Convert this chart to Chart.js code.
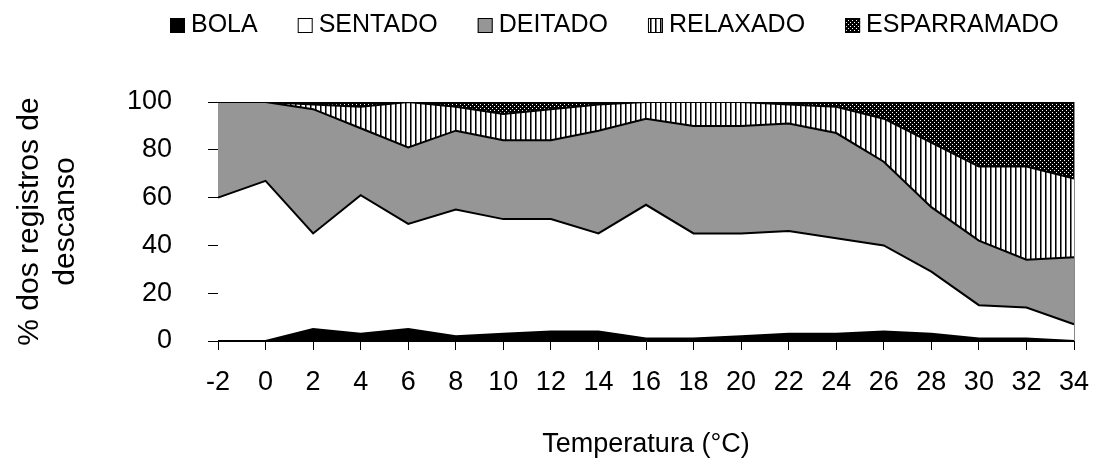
<!DOCTYPE html>
<html>
<head>
<meta charset="utf-8">
<script src="https://cdn.jsdelivr.net/npm/chart.js@4.4.1/dist/chart.umd.min.js"></script>
<style>
  body { margin: 0; background: #fff; }
</style>
</head>
<body>
<canvas id="myChart" width="1095" height="474"></canvas>
<script>
var temperaturas = ['-2', '0', '2', '4', '6', '8', '10', '12', '14', '16', '18', '20', '22', '24', '26', '28', '30', '32', '34'];

var bola        = [0, 0, 5, 3, 5, 2, 3, 4, 4, 1, 1, 2, 3, 3, 4, 3, 1, 1, 0];
var sentado     = [60, 67, 40, 58, 44, 53, 48, 47, 41, 56, 44, 43, 43, 40, 36, 26, 14, 13, 7];
var deitado     = [40, 33, 52, 28, 32, 33, 33, 33, 43, 36, 45, 45, 45, 44, 35, 27, 27, 20, 28];
var relaxado    = [0, 0, 2, 9, 19, 10, 11, 13, 11, 7, 10, 10, 8, 11, 18, 27, 31, 39, 33];
var esparramado = [0, 0, 1, 2, 0, 2, 5, 3, 1, 0, 0, 0, 1, 2, 7, 17, 27, 27, 32];

var nomes = ['BOLA', 'SENTADO', 'DEITADO', 'RELAXADO', 'ESPARRAMADO'];
var valores = [bola, sentado, deitado, relaxado, esparramado];

var fonte = "'Liberation Sans', Arial, sans-serif";

makePattern = (w, h, draw) => {
    var c = document.createElement('canvas');
    c.width = w;
    c.height = h;
    var g = c.getContext('2d');
    draw(g);
    return g.createPattern(c, 'repeat');
}

// vertical stripes for RELAXADO
var listras = makePattern(5, 5, g => {
    g.fillStyle = '#fff';
    g.fillRect(0, 0, 5, 5);
    g.fillStyle = '#000';
    g.fillRect(0, 0, 1, 5);
    g.fillStyle = '#777';
    g.fillRect(1, 0, 1, 5);
});

// white dots on black for ESPARRAMADO
var pontos = makePattern(4, 4, g => {
    g.fillStyle = '#000';
    g.fillRect(0, 0, 4, 4);
    g.fillStyle = '#fff';
    g.fillRect(0, 0, 1, 1);
    g.fillRect(2, 2, 1, 1);
});

var cores = ['#000000', '#ffffff', '#969696', listras, pontos];

var legenda = {
    id: 'legenda',
    afterDraw: (chart) => {
        var ctx = chart.ctx;
        var area = chart.chartArea;
        ctx.save();
        // thin grey edge on the right of the plot
        ctx.strokeStyle = '#888';
        ctx.lineWidth = 1;
        ctx.beginPath();
        ctx.moveTo(area.right + 0.5, area.top);
        ctx.lineTo(area.right + 0.5, area.bottom);
        ctx.stroke();

        ctx.font = '25px ' + fonte;
        ctx.textBaseline = 'middle';
        var x = 170, y = 25;
        chart.data.datasets.forEach(ds => {
            ctx.fillStyle = ds.backgroundColor;
            ctx.fillRect(x, y - 7, 15, 15);
            ctx.strokeStyle = '#000';
            ctx.lineWidth = 1;
            ctx.strokeRect(x + 0.5, y - 6.5, 14, 14);
            ctx.fillStyle = '#000';
            ctx.fillText(ds.label, x + 21, y);
            x += 21 + ctx.measureText(ds.label).width + 40;
        });
        ctx.restore();
    }
};

var ctx = document.getElementById('myChart').getContext('2d');

new Chart(ctx, {
    type: 'line',
    data: {
        labels: temperaturas,
        datasets: nomes.map((nome, i) => ({
            label: nome,
            data: valores[i],
            backgroundColor: cores[i],
            borderColor: '#000',
            borderWidth: 2,
            fill: i === 0 ? 'origin' : '-1',
            pointRadius: 0,
            tension: 0
        }))
    },
    options: {
        responsive: false,
        animation: false,
        devicePixelRatio: 1,
        layout: { padding: { top: 102, right: 21, left: 0, bottom: 0 } },
        plugins: {
            legend: { display: false },
            tooltip: { enabled: false }
        },
        scales: {
            x: {
                offset: false,
                grid: { drawOnChartArea: false, tickLength: 9, color: '#000' },
                border: { color: '#000' },
                ticks: { color: '#000', font: { family: fonte, size: 27 }, padding: 16, maxRotation: 0, autoSkip: false },
                title: {
                    display: true,
                    text: 'Temperatura (°C)',
                    color: '#000',
                    font: { family: fonte, size: 27 },
                    padding: { top: 0, bottom: 13 }
                },
                afterFit: s => {
                    s.height = 133;
                    s.paddingRight = 0;
                }
            },
            y: {
                stacked: true,
                min: 0,
                max: 100,
                ticks: { stepSize: 20, color: '#000', font: { family: fonte, size: 27 }, padding: 36 },
                grid: { drawOnChartArea: false, tickLength: 10, color: '#000' },
                border: { color: '#000' },
                title: {
                    display: true,
                    text: ['% dos registros de', 'descanso'],
                    color: '#000',
                    font: { family: fonte, size: 30, lineHeight: 1.2 },
                    padding: { top: 12, bottom: 0 }
                },
                afterFit: s => { s.width = 218; }
            }
        }
    },
    plugins: [legenda]
});
</script>
</body>
</html>
